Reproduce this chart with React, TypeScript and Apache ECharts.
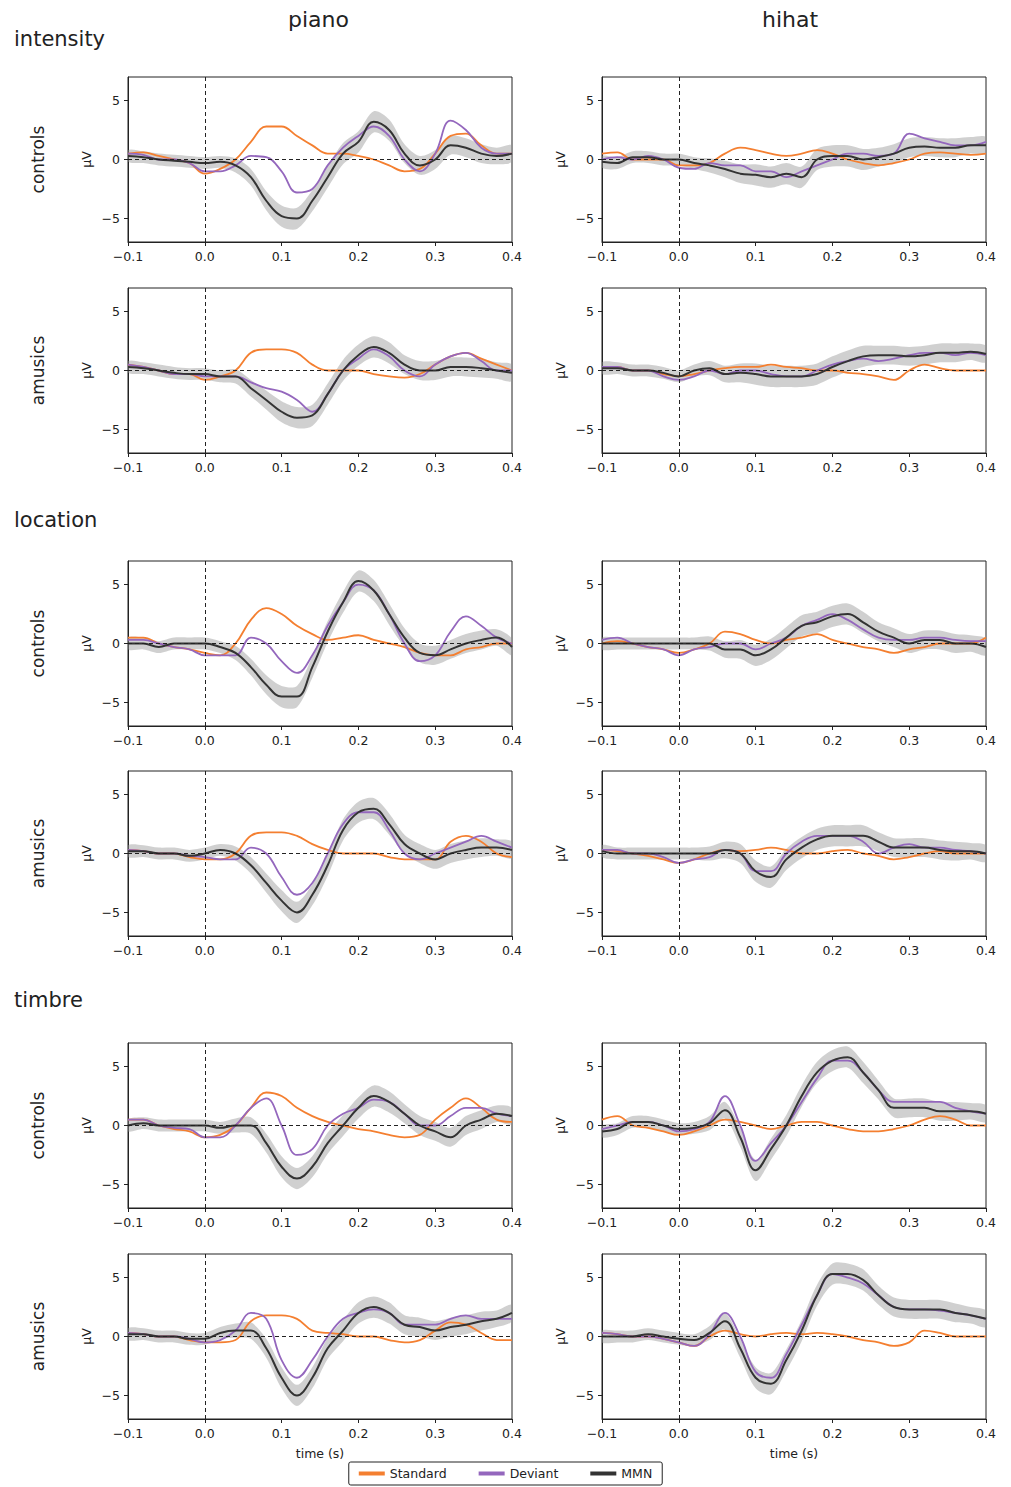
import { useEffect, useRef } from 'react';
import * as echarts from 'echarts';

// time points, every 20 ms
const TIMES = [-0.1, -0.08, -0.06, -0.04, -0.02, 0, 0.02, 0.04, 0.06, 0.08, 0.1, 0.12, 0.14, 0.16, 0.18, 0.2, 0.22, 0.24, 0.26, 0.28, 0.3, 0.32, 0.34, 0.36, 0.38, 0.4];

const SECTIONS = ['intensity', 'location', 'timbre'];
const GROUPS = ['controls', 'amusics'];
const INSTRUMENTS = ['piano', 'hihat'];
const X_TICKS = [-0.1, 0, 0.1, 0.2, 0.3, 0.4];
const Y_TICKS = [-5, 0, 5];

// half-width of the grey confidence band around the MMN
const SPREAD = [0.5, 0.5, 0.5, 0.5, 0.5, 0.5, 0.5, 0.6, 0.7, 0.8, 0.9, 0.9, 0.9, 0.9, 0.9, 0.9, 0.9, 0.9, 0.8, 0.8, 0.8, 0.8, 0.8, 0.8, 0.7, 0.7];

// intensity
const INT_PIANO_CTRL_STD = [0.5, 0.6, 0.3, 0, -0.3, -1.2, -0.8, 0, 1.5, 2.8, 2.8, 2.0, 1.2, 0.5, 0.5, 0.3, 0, -0.5, -1.0, -0.8, 0.5, 2.0, 2.2, 1.2, 0.5, 0.5];
const INT_PIANO_CTRL_DEV = [0.5, 0.4, 0, 0, -0.3, -1.0, -1.0, -0.5, 0.3, 0.2, -1.0, -2.8, -2.5, -0.5, 1.0, 2.0, 2.8, 2.0, 0, -1.0, 0.5, 3.3, 2.5, 1.0, 0.5, 0.5];
const INT_PIANO_CTRL_MMN = [0.3, 0.2, 0, -0.1, -0.2, -0.3, -0.2, -0.5, -1.5, -3.5, -4.8, -5.0, -3.5, -1.5, 0.5, 1.5, 3.2, 2.5, 0.5, -0.5, 0, 1.2, 1.0, 0.5, 0.3, 0.5];
const INT_HIHAT_CTRL_STD = [0.5, 0.6, 0, 0, 0, -0.5, -0.5, -0.3, 0.5, 1.0, 0.8, 0.5, 0.3, 0.5, 0.8, 0.5, 0, -0.3, -0.5, -0.3, 0, 0.5, 0.6, 0.5, 0.4, 0.5];
const INT_HIHAT_CTRL_DEV = [0, 0.2, 0, 0.3, 0, -0.7, -0.8, -0.3, -0.5, -0.5, -1.0, -1.0, -1.5, -1.0, -0.5, 0, 0.5, 0.5, 0.3, 0.5, 2.2, 1.8, 1.5, 1.2, 1.2, 1.5];
const INT_HIHAT_CTRL_MMN = [-0.2, -0.3, 0.2, 0.2, 0, 0, -0.3, -0.5, -0.8, -1.2, -1.3, -1.5, -1.2, -1.5, 0, 0.3, 0.3, 0, 0.2, 0.5, 1.0, 1.1, 1.0, 1.0, 1.2, 1.2];
const INT_PIANO_AMUS_STD = [0.5, 0.3, 0, -0.3, -0.3, -0.8, -0.5, 0, 1.5, 1.8, 1.8, 1.5, 0.5, 0, 0, 0, -0.3, -0.5, -0.6, -0.3, 0.5, 1.2, 1.5, 1.0, 0.5, 0];
const INT_PIANO_AMUS_DEV = [0.5, 0.3, 0, -0.3, -0.3, -0.5, -0.5, -0.5, -1.0, -1.5, -1.8, -2.5, -3.5, -2.0, 0, 1.0, 1.8, 1.2, 0, -0.5, 0.5, 1.2, 1.5, 0.8, 0, 0];
const INT_PIANO_AMUS_MMN = [0.3, 0.2, 0, -0.2, -0.3, -0.3, -0.5, -0.5, -1.5, -2.5, -3.5, -4.0, -3.8, -2.0, 0, 1.3, 2.0, 1.5, 0.5, 0, 0, 0.3, 0.3, 0.2, 0, -0.2];
const INT_HIHAT_AMUS_STD = [0.3, 0.3, 0, 0, -0.3, -0.5, -0.3, 0, 0.2, 0.3, 0.3, 0.5, 0.3, 0.2, 0, 0, -0.2, -0.3, -0.5, -0.8, 0, 0.5, 0.2, 0, 0, 0];
const INT_HIHAT_AMUS_DEV = [0.3, 0.3, 0, 0, -0.5, -0.8, -0.5, 0, -0.3, 0, 0, -0.3, -0.5, -0.5, 0, 0.5, 0.8, 1.0, 0.8, 1.0, 1.3, 1.5, 1.5, 1.3, 1.5, 1.3];
const INT_HIHAT_AMUS_MMN = [0.2, 0.2, 0, 0, -0.2, -0.5, 0, 0.2, -0.3, -0.2, -0.3, -0.5, -0.5, -0.5, -0.3, 0.3, 0.8, 1.2, 1.3, 1.3, 1.2, 1.3, 1.5, 1.5, 1.6, 1.4];

// location
const LOC_PIANO_CTRL_STD = [0.5, 0.5, 0, -0.3, -0.5, -0.8, -1.0, 0, 2.0, 3.0, 2.5, 1.5, 0.8, 0.3, 0.5, 0.7, 0.3, 0, -0.3, -0.8, -1.0, -1.0, -0.5, -0.3, 0, 0];
const LOC_PIANO_CTRL_DEV = [0.3, 0.3, 0, -0.3, -0.5, -1.0, -1.0, -1.0, 0.5, 0, -1.5, -2.5, -1.0, 1.5, 3.5, 5.0, 4.5, 2.5, 0, -1.5, -1.0, 1.0, 2.3, 1.5, 0.5, 0];
const LOC_PIANO_CTRL_MMN = [0, 0, -0.3, 0, 0, 0, -0.3, -0.8, -2.0, -3.5, -4.5, -4.5, -2.0, 1.0, 3.5, 5.3, 4.5, 2.5, 0.5, -0.8, -1.0, -0.5, 0, 0.3, 0.5, -0.3];
const LOC_HIHAT_CTRL_STD = [0, 0.2, 0, -0.3, -0.5, -0.8, -0.5, 0, 1.0, 0.8, 0.3, 0, 0.3, 0.5, 0.8, 0.3, 0, -0.3, -0.5, -0.8, -0.5, -0.3, 0, 0, 0, 0.5];
const LOC_HIHAT_CTRL_DEV = [0.3, 0.5, 0, -0.3, -0.5, -1.0, -0.5, -0.3, 0, 0, -0.5, 0, 0.5, 1.5, 2.0, 2.5, 2.0, 1.2, 0.5, 0.3, 0.3, 0.5, 0.5, 0.3, 0.2, 0.2];
const LOC_HIHAT_CTRL_MMN = [0, 0, 0, 0, 0, 0, 0, 0, -0.5, -0.5, -1.0, -0.5, 0.5, 1.5, 1.8, 2.3, 2.5, 1.8, 1.0, 0.5, 0, 0.3, 0.3, 0, 0, -0.3];
const LOC_PIANO_AMUS_STD = [0.3, 0.2, 0, 0, -0.3, -0.5, -0.5, 0, 1.5, 1.8, 1.8, 1.5, 0.8, 0.3, 0, 0, 0, -0.3, -0.5, -0.5, -0.5, 1.0, 1.5, 1.0, 0, -0.3];
const LOC_PIANO_AMUS_DEV = [0.3, 0.2, 0, 0, -0.2, -0.3, -0.5, -0.5, 0.5, 0, -2.0, -3.5, -2.5, 0, 2.5, 3.5, 3.5, 2.0, 0, -0.5, 0, 0.5, 1.0, 1.5, 1.0, 0.5];
const LOC_PIANO_AMUS_MMN = [0.2, 0.2, 0, 0, -0.2, 0, 0.3, 0, -1.0, -2.5, -4.0, -5.0, -3.5, -1.0, 2.0, 3.5, 3.8, 2.5, 0.8, 0, -0.5, 0, 0.3, 0.5, 0.5, 0.3];
const LOC_HIHAT_AMUS_STD = [0.3, 0.2, 0, -0.2, -0.5, -0.8, -0.5, 0, 0.3, 0.2, 0.3, 0.5, 0.3, 0, 0, 0.2, 0.3, 0, -0.2, -0.5, -0.3, 0, 0.2, 0, 0, 0];
const LOC_HIHAT_AMUS_DEV = [0.3, 0.3, 0, 0, -0.3, -0.8, -0.5, -0.3, 0.3, 0, -1.5, -1.5, 0, 1.0, 1.5, 1.5, 1.5, 1.0, 0, 0.5, 0.8, 0.5, 0.5, 0.3, 0.2, 0];
const LOC_HIHAT_AMUS_MMN = [0.2, 0, 0, 0, 0, 0, 0, 0, 0.3, 0, -1.5, -2.0, -0.5, 0.5, 1.2, 1.5, 1.5, 1.5, 1.0, 0.5, 0.5, 0.5, 0.3, 0.2, 0.2, 0];

// timbre
const TIM_PIANO_CTRL_STD = [0.5, 0.5, 0, -0.3, -0.5, -1.0, -0.8, 0, 1.5, 2.8, 2.5, 1.5, 0.8, 0.3, 0, -0.3, -0.5, -0.8, -1.0, -0.8, 0.5, 1.5, 2.3, 1.5, 0.5, 0.3];
const TIM_PIANO_CTRL_DEV = [0.5, 0.5, 0, -0.2, -0.3, -1.0, -1.0, 0, 1.5, 2.3, 0, -2.5, -2.0, 0, 1.0, 1.5, 2.2, 2.0, 1.0, 0, 0, 0.8, 1.5, 1.5, 1.0, 0.8];
const TIM_PIANO_CTRL_MMN = [0, 0.2, 0, 0, 0, 0, -0.2, 0, 0, -1.5, -3.5, -4.5, -3.5, -1.5, 0, 1.5, 2.5, 2.0, 1.0, 0, -0.5, -1.0, 0, 0.5, 1.0, 0.8];
const TIM_HIHAT_CTRL_STD = [0.5, 0.8, 0, -0.2, -0.5, -0.8, -0.5, 0, 0.5, 0.3, 0, -0.3, 0, 0.3, 0.3, 0, -0.3, -0.5, -0.5, -0.3, 0, 0.5, 0.8, 0.5, 0, 0];
const TIM_HIHAT_CTRL_DEV = [-0.3, 0, 0.3, 0.3, 0, -0.5, -0.3, 0.3, 2.5, 0, -3.0, -1.5, 0, 2.0, 4.0, 5.5, 5.5, 4.5, 3.0, 2.0, 2.0, 2.0, 2.0, 1.5, 1.2, 1.0];
const TIM_HIHAT_CTRL_MMN = [-0.5, -0.3, 0.3, 0.3, 0, -0.3, -0.2, 0.2, 1.3, -1.0, -3.8, -2.0, 0, 2.5, 4.5, 5.5, 5.8, 4.5, 3.0, 1.5, 1.5, 1.5, 1.2, 1.2, 1.2, 1.0];
const TIM_PIANO_AMUS_STD = [0.3, 0.2, 0, 0, -0.3, -0.5, -0.5, -0.3, 1.3, 1.8, 1.8, 1.5, 0.5, 0.3, 0.2, 0, 0, -0.3, -0.5, -0.3, 0.5, 1.2, 1.0, 0.3, -0.3, -0.3];
const TIM_PIANO_AMUS_DEV = [0.3, 0.2, 0, 0, -0.2, -0.5, -0.3, 0.5, 2.0, 1.5, -2.0, -3.5, -2.0, 0, 1.5, 2.0, 2.3, 2.0, 1.0, 1.0, 1.0, 1.5, 1.8, 1.5, 1.5, 1.5];
const TIM_PIANO_AMUS_MMN = [0.2, 0.2, 0, 0, -0.2, -0.2, 0.3, 0.5, 0.5, -1.0, -3.5, -5.0, -3.5, -1.0, 0.5, 2.0, 2.5, 2.0, 1.0, 0.8, 0.5, 0.8, 1.0, 1.3, 1.5, 2.0];
const TIM_HIHAT_AMUS_STD = [0.3, 0.2, 0, 0, -0.2, -0.5, -0.8, 0, 0.5, 0.2, 0, 0.2, 0.3, 0.2, 0.3, 0.2, 0, -0.3, -0.5, -0.8, -0.5, 0.5, 0.3, 0, 0, 0];
const TIM_HIHAT_AMUS_DEV = [0.3, 0.2, 0, 0, -0.2, -0.5, -0.8, 0.2, 2.0, 0, -3.0, -3.5, -1.5, 1.0, 3.5, 5.3, 5.0, 4.5, 3.5, 2.5, 2.3, 2.3, 2.2, 2.0, 1.8, 1.5];
const TIM_HIHAT_AMUS_MMN = [0, 0, 0, 0.2, 0, -0.2, -0.3, 0.3, 1.3, -1.0, -3.5, -4.0, -2.0, 0.5, 3.5, 5.3, 5.3, 4.8, 3.5, 2.5, 2.3, 2.3, 2.3, 2.0, 1.8, 1.5];

// panels in reading order: row by row, piano then hihat
const PANELS = [
  [INT_PIANO_CTRL_STD, INT_PIANO_CTRL_DEV, INT_PIANO_CTRL_MMN],
  [INT_HIHAT_CTRL_STD, INT_HIHAT_CTRL_DEV, INT_HIHAT_CTRL_MMN],
  [INT_PIANO_AMUS_STD, INT_PIANO_AMUS_DEV, INT_PIANO_AMUS_MMN],
  [INT_HIHAT_AMUS_STD, INT_HIHAT_AMUS_DEV, INT_HIHAT_AMUS_MMN],
  [LOC_PIANO_CTRL_STD, LOC_PIANO_CTRL_DEV, LOC_PIANO_CTRL_MMN],
  [LOC_HIHAT_CTRL_STD, LOC_HIHAT_CTRL_DEV, LOC_HIHAT_CTRL_MMN],
  [LOC_PIANO_AMUS_STD, LOC_PIANO_AMUS_DEV, LOC_PIANO_AMUS_MMN],
  [LOC_HIHAT_AMUS_STD, LOC_HIHAT_AMUS_DEV, LOC_HIHAT_AMUS_MMN],
  [TIM_PIANO_CTRL_STD, TIM_PIANO_CTRL_DEV, TIM_PIANO_CTRL_MMN],
  [TIM_HIHAT_CTRL_STD, TIM_HIHAT_CTRL_DEV, TIM_HIHAT_CTRL_MMN],
  [TIM_PIANO_AMUS_STD, TIM_PIANO_AMUS_DEV, TIM_PIANO_AMUS_MMN],
  [TIM_HIHAT_AMUS_STD, TIM_HIHAT_AMUS_DEV, TIM_HIHAT_AMUS_MMN],
];

const COLORS = { std: '#f47f30', dev: '#9467bd', mmn: '#333333' };
const ROW_TOPS = [77, 288, 561, 771, 1043, 1254];
const COL_LEFTS = [128, 602];
const PANEL_W = 384;
const PANEL_H = 165;
const FONT = 'DejaVu Sans';

const pairs = (vals: number[]) => vals.map((v, i) => [TIMES[i], v]);

const App = () => {
  const ref = useRef<HTMLDivElement>(null);

  useEffect(() => {
    document.body.style.margin = '0';
    if (!ref.current) return;
    const chart = echarts.init(ref.current, undefined, { renderer: 'svg' });

    const grid: any[] = [];
    const xAxis: any[] = [];
    const yAxis: any[] = [];
    const series: any[] = [];

    PANELS.forEach(([std, dev, mmn], i) => {
      const row = Math.floor(i / 2);
      const col = i % 2;
      grid.push({
        left: COL_LEFTS[col], top: ROW_TOPS[row], width: PANEL_W, height: PANEL_H,
        show: true, borderColor: '#222', borderWidth: 1, backgroundColor: 'transparent'
      });
      xAxis.push({
        type: 'value', gridIndex: i, min: -0.1, max: 0.4, interval: 0.1,
        name: row === 5 ? 'time (s)' : '', nameLocation: 'middle', nameGap: 28,
        nameTextStyle: { fontFamily: FONT, fontSize: 12.5, color: '#222' },
        axisLine: { show: true, onZero: false, lineStyle: { color: '#222' } },
        axisTick: { show: true, length: 4, lineStyle: { color: '#222' } },
        axisLabel: { fontFamily: FONT, fontSize: 12.5, color: '#222', formatter: (v: number) => v.toFixed(1).replace('-', '−'), customValues: X_TICKS },
        splitLine: { show: false }
      });
      yAxis.push({
        type: 'value', gridIndex: i, min: -7, max: 7,
        name: 'µV', nameLocation: 'middle', nameGap: 35, nameRotate: 90,
        nameTextStyle: { fontFamily: FONT, fontSize: 12.5, color: '#222' },
        axisLine: { show: true, onZero: false, lineStyle: { color: '#222' } },
        axisTick: { show: true, length: 4, customValues: Y_TICKS, lineStyle: { color: '#222' } },
        axisLabel: { fontFamily: FONT, fontSize: 12.5, color: '#222', customValues: Y_TICKS, formatter: (v: number) => String(v).replace('-', '−') },
        splitLine: { show: false }
      });
      const base = { type: 'line', xAxisIndex: i, yAxisIndex: i, symbol: 'none', smooth: 0.4, z: 3 };
      // grey band: MMN ± SPREAD, drawn as one smoothed polygon
      series.push({
        type: 'custom', name: 'band', xAxisIndex: i, yAxisIndex: i, silent: true, z: 1,
        clip: true,
        data: [[TIMES[0], mmn[0]]],
        renderItem: (_p: any, api: any) => {
          const upper = mmn.map((v, k) => api.coord([TIMES[k], v + SPREAD[k]]));
          const lower = mmn.map((v, k) => api.coord([TIMES[k], v - SPREAD[k]])).reverse();
          return {
            type: 'polygon',
            shape: { points: upper.concat(lower), smooth: 0.3 },
            style: { fill: 'rgba(150,150,150,0.45)', stroke: 'none' }
          };
        },
        markLine: {
          silent: true, symbol: 'none', label: { show: false },
          lineStyle: { color: '#222', type: [4, 3], width: 1 },
          data: [{ xAxis: 0 }, { yAxis: 0 }]
        }
      });
      series.push({ ...base, name: 'Standard', data: pairs(std), lineStyle: { color: COLORS.std, width: 1.8 }, itemStyle: { color: COLORS.std } });
      series.push({ ...base, name: 'Deviant', data: pairs(dev), lineStyle: { color: COLORS.dev, width: 1.8 }, itemStyle: { color: COLORS.dev } });
      series.push({ ...base, name: 'MMN', data: pairs(mmn), lineStyle: { color: COLORS.mmn, width: 2 }, itemStyle: { color: COLORS.mmn }, z: 4 });
    });

    const graphic: any[] = [];
    INSTRUMENTS.forEach((t, c) => {
      graphic.push({ type: 'text', left: COL_LEFTS[c] + PANEL_W / 2 - 32, top: 8, style: { text: t, fontFamily: FONT, fontSize: 22, fill: '#222' } });
    });
    SECTIONS.forEach((s, k) => {
      graphic.push({ type: 'text', left: 14, top: [28, 509, 989][k], style: { text: s, fontFamily: FONT, fontSize: 21, fill: '#222' } });
    });
    ROW_TOPS.forEach((top, r) => {
      graphic.push({
        type: 'text', x: 38, y: top + PANEL_H / 2, rotation: Math.PI / 2,
        style: { text: GROUPS[r % 2], fontFamily: FONT, fontSize: 17, fill: '#222', align: 'center', verticalAlign: 'middle' }
      });
    });

    chart.setOption({
      animation: false,
      grid, xAxis, yAxis, series, graphic,
      legend: {
        data: ['Standard', 'Deviant', 'MMN'], bottom: 2, left: 'center',
        icon: 'rect', itemWidth: 26, itemHeight: 4, itemGap: 32,
        borderColor: '#222', borderWidth: 1, borderRadius: 2, padding: [5, 10],
        textStyle: { fontFamily: FONT, fontSize: 12.5, color: '#222' }
      }
    });

    return () => chart.dispose();
  }, []);

  return <div ref={ref} style={{ width: 1011, height: 1487 }} />;
};

export default App;
